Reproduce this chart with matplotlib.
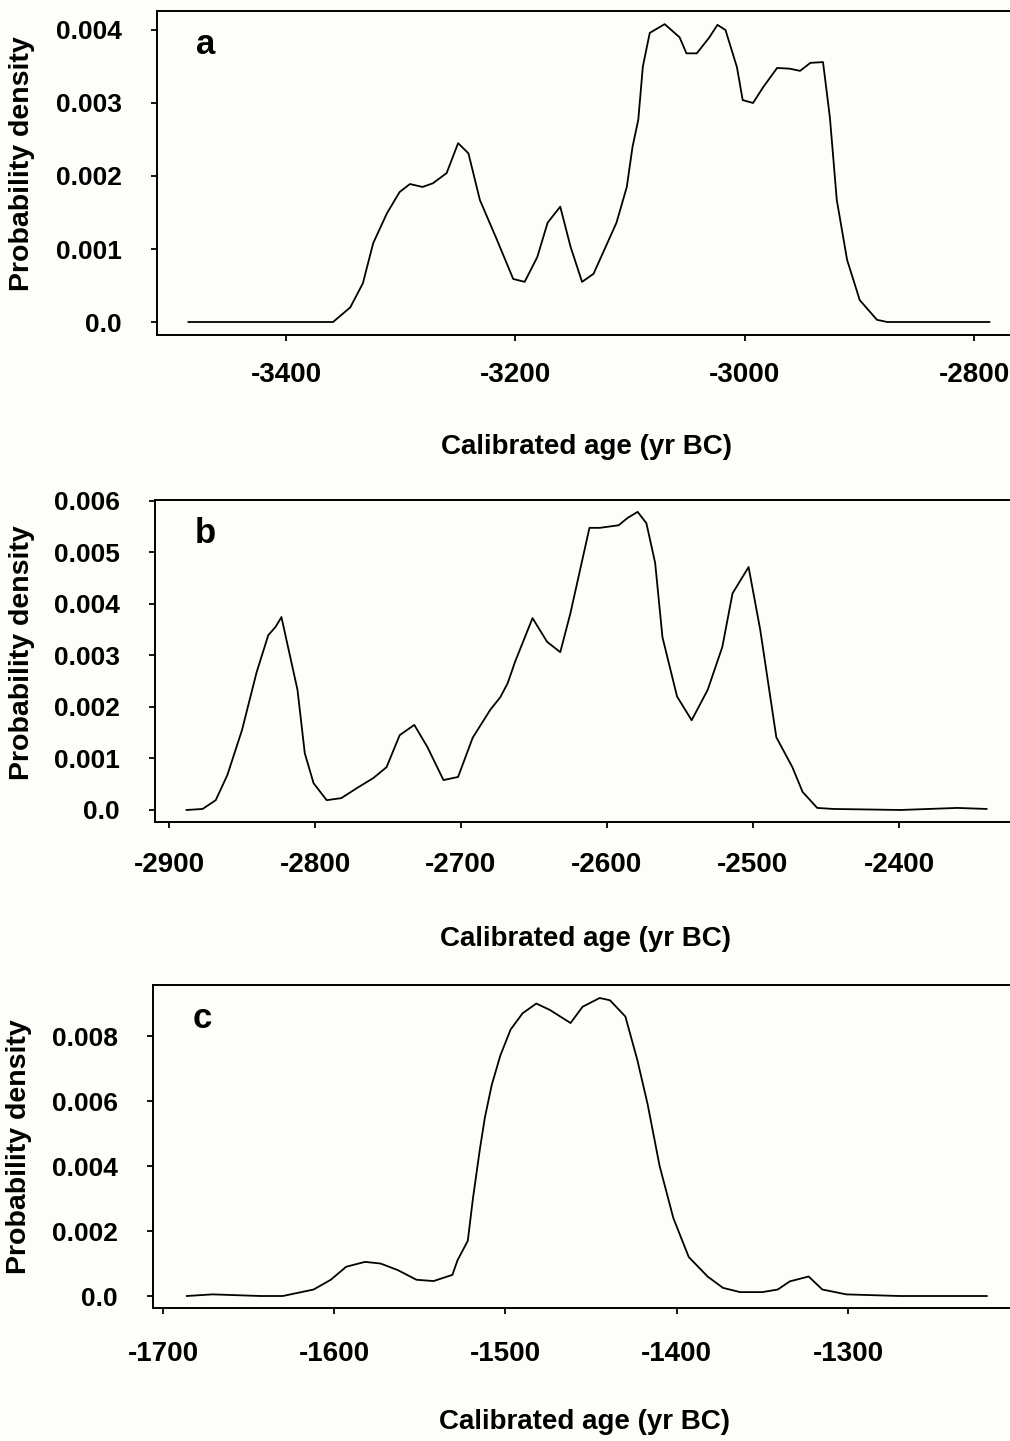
import numpy as np
import matplotlib.pyplot as plt

plt.rcParams['font.family'] = ['Liberation Sans', 'DejaVu Sans']
plt.rcParams['font.weight'] = 'bold'
plt.rcParams['axes.unicode_minus'] = False

BG = '#fdfdf9'

# panel a
a_year = [-3485, -3420, -3359, -3344, -3333, -3324, -3312, -3301, -3292, -3281, -3272, -3260,
          -3250, -3241, -3231, -3216, -3202, -3192, -3181, -3172, -3161, -3152, -3142, -3132,
          -3124, -3112, -3103, -3098, -3093, -3089, -3083, -3070, -3057, -3051, -3042, -3031,
          -3024, -3017, -3007, -3002, -2993, -2984, -2972, -2961, -2952, -2943, -2932, -2926,
          -2920, -2911, -2900, -2885, -2876, -2830, -2787]
a_dens = [0.0, 0.0, 0.0, 0.0002, 0.00053, 0.00108, 0.00149, 0.00178, 0.00189, 0.00185, 0.0019, 0.00204,
          0.00245, 0.00231, 0.00167, 0.00112, 0.00059, 0.00055, 0.00089, 0.00136, 0.00158, 0.00103, 0.00055, 0.00066,
          0.00094, 0.00136, 0.00185, 0.0024, 0.00277, 0.0035, 0.00396, 0.00408, 0.0039, 0.00368, 0.00368, 0.0039,
          0.00407, 0.004, 0.00349, 0.00304, 0.003, 0.00322, 0.00348, 0.00347, 0.00344, 0.00355, 0.00356, 0.0028,
          0.00167, 0.00085, 0.0003, 0.00003, 0.0, 0.0, 0.0]
a_xticks = [-3400, -3200, -3000, -2800]
a_yticks = [0.0, 0.001, 0.002, 0.003, 0.004]
a_ylabels = ['0.0', '0.001', '0.002', '0.003', '0.004']

# panel b
b_year = [-2888, -2877, -2868, -2860, -2850, -2840, -2832, -2827, -2823, -2812, -2807, -2801,
          -2792, -2782, -2771, -2760, -2751, -2742, -2732, -2723, -2712, -2702, -2692, -2680,
          -2673, -2668, -2663, -2651, -2641, -2632, -2625, -2618, -2612, -2605, -2592, -2586,
          -2579, -2573, -2567, -2562, -2552, -2542, -2531, -2521, -2514, -2503, -2495, -2484,
          -2473, -2466, -2456, -2445, -2399, -2360, -2340]
b_dens = [0.0, 0.00002, 0.00019, 0.00068, 0.00155, 0.00267, 0.00339, 0.00355, 0.00374, 0.00233, 0.0011, 0.00052,
          0.00019, 0.00023, 0.00043, 0.00062, 0.00083, 0.00145, 0.00165, 0.00122, 0.00058, 0.00064, 0.0014, 0.00194,
          0.00219, 0.00246, 0.00287, 0.00372, 0.00326, 0.00306, 0.00382, 0.00471, 0.00547, 0.00547, 0.00552, 0.00566,
          0.00578, 0.00556, 0.00479, 0.00335, 0.0022, 0.00174, 0.00233, 0.00316, 0.0042, 0.00471, 0.00349, 0.00141,
          0.00083, 0.00035, 0.00004, 0.00002, 0.0, 0.00004, 0.00002]
b_xticks = [-2900, -2800, -2700, -2600, -2500, -2400]
b_yticks = [0.0, 0.001, 0.002, 0.003, 0.004, 0.005, 0.006]
b_ylabels = ['0.0', '0.001', '0.002', '0.003', '0.004', '0.005', '0.006']

# panel c
c_year = [-1686, -1671, -1643, -1630, -1612, -1602, -1593, -1582, -1573, -1563, -1552, -1542,
          -1531, -1528, -1522, -1519, -1515, -1512, -1508, -1503, -1497, -1490, -1482, -1474,
          -1462, -1455, -1445, -1439, -1430, -1423, -1417, -1410, -1402, -1393, -1382, -1373,
          -1363, -1350, -1341, -1334, -1323, -1315, -1301, -1270, -1219]
c_dens = [0.0, 0.00005, 0.0, 0.0, 0.0002, 0.0005, 0.0009, 0.00105, 0.001, 0.0008, 0.0005, 0.00046,
          0.00065, 0.0011, 0.0017, 0.003, 0.0045, 0.0055, 0.0065, 0.0074, 0.0082, 0.0087, 0.009, 0.0088,
          0.0084, 0.0089, 0.00917, 0.0091, 0.0086, 0.00726, 0.0059, 0.004, 0.0024, 0.0012, 0.0006, 0.00025,
          0.00012, 0.00012, 0.0002, 0.00045, 0.0006, 0.0002, 0.00005, 0.0, 0.0]
c_xticks = [-1700, -1600, -1500, -1400, -1300]
c_yticks = [0.0, 0.002, 0.004, 0.006, 0.008]
c_ylabels = ['0.0', '0.002', '0.004', '0.006', '0.008']


def density_panel(fig, rect, year, dens, xlim, ylim, xticks, yticks, ylabels, letter,
                  xpad=16, xlabel_y=-0.31, ylabel_xy=(-0.141, 0.52)):
    ax = fig.add_axes(rect)
    ax.set_facecolor(BG)
    ax.plot(year, dens, color='black', lw=1.3)

    ax.set_xlim(xlim)
    ax.set_ylim(ylim)
    ax.set_xticks(xticks)
    ax.set_xticklabels([str(x) for x in xticks])
    ax.set_yticks(yticks)
    ax.set_yticklabels(ylabels)

    ax.spines['right'].set_visible(False)
    for s in ['left', 'bottom', 'top']:
        ax.spines[s].set_linewidth(1.4)
    ax.tick_params(axis='both', direction='out', length=4.5, width=1.3)
    ax.tick_params(axis='x', labelsize=20, pad=xpad)
    ax.tick_params(axis='y', labelsize=19, pad=21)

    ax.set_xlabel('Calibrated age (yr BC)', fontsize=20, fontweight='bold')
    ax.xaxis.set_label_coords(0.5, xlabel_y)
    ax.set_ylabel('Probability density', fontsize=20.5, fontweight='bold')
    ax.yaxis.set_label_coords(*ylabel_xy)

    ax.text(0.046, 0.868, letter, transform=ax.transAxes, fontsize=25, fontweight='bold',
            ha='left', va='baseline')
    return ax


fig = plt.figure(figsize=(10.1, 14.41), dpi=100, facecolor=BG)

density_panel(fig, [0.15545, 0.76752, 0.8495, 0.22484], a_year, a_dens,
              (-3512.4, -2764.7), (-0.000178, 0.00426), a_xticks, a_yticks, a_ylabels, 'a',
              xpad=15, xlabel_y=-0.306, ylabel_xy=(-0.1427, 0.528))
density_panel(fig, [0.15347, 0.42956, 0.85149, 0.22346], b_year, b_dens,
              (-2909.6, -2320.5), (-0.000233, 0.00601), b_xticks, b_yticks, b_ylabels, 'b',
              xpad=17, xlabel_y=-0.323, ylabel_xy=(-0.140, 0.525))
density_panel(fig, [0.15149, 0.0923, 0.85347, 0.22415], c_year, c_dens,
              (-1705.8, -1202.5), (-0.000369, 0.00957), c_xticks, c_yticks, c_ylabels, 'c',
              xpad=19, xlabel_y=-0.313, ylabel_xy=(-0.140, 0.50))

plt.savefig('out.png', dpi=100, facecolor=BG)
